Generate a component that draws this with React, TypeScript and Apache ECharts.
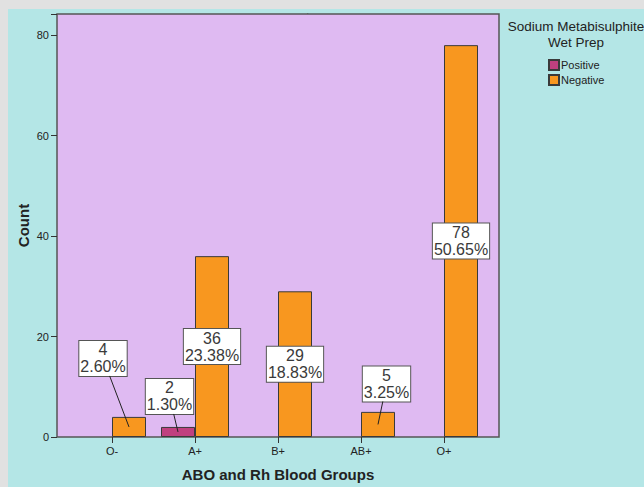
import React, { useEffect, useRef } from "react";
import * as echarts from "echarts";

const categories = ["O-", "A+", "B+", "AB+", "O+"];
const positiveCounts = [0, 2, 0, 0, 0];
const negativeCounts = [4, 36, 29, 5, 78];
const seriesNames = ["Positive", "Negative"];
const yTicks = [0, 20, 40, 60, 80];
// label displacement (px) for labels pushed off small bars
const positiveLabelShift: [number, number][] = [[0, 0], [-8.5, -35.5], [0, 0], [0, 0], [0, 0]];
const negativeLabelShift: [number, number][] = [[-26, -68.5], [0, 0], [0, 0], [8.5, -40.5], [0, 0]];

const FONT = "'Liberation Sans', Arial, sans-serif";
const BAR_W = 34;
const BOX_HALF_H = 17.5;

export default function App() {
  const ref = useRef<HTMLDivElement>(null);
  useEffect(() => {
    if (!ref.current) return;
    const chart = echarts.init(ref.current, null, { renderer: "svg" });
    const total =
      positiveCounts.reduce((a, b) => a + b, 0) + negativeCounts.reduce((a, b) => a + b, 0);

    const makeData = (vals: number[], shifts: [number, number][]) =>
      vals.map((v, i) => ({
        value: v,
        label: { show: v > 0, offset: shifts[i] },
        itemStyle: v > 0 ? {} : { borderWidth: 0, opacity: 0 },
      }));

    const labelStyle = {
      show: true,
      position: "inside",
      formatter: (p: any) => `${p.value}\n${((p.value / total) * 100).toFixed(2)}%`,
      fontSize: 16,
      lineHeight: 17,
      fontFamily: FONT,
      color: "#3a3a3a",
      backgroundColor: "#ffffff",
      borderColor: "#555",
      borderWidth: 1,
      padding: [1, 1, 0, 1],
    };

    const leaderData: number[][] = [];
    [
      [positiveCounts, positiveLabelShift, -1],
      [negativeCounts, negativeLabelShift, 1],
    ].forEach(([vals, shifts, side]: any) => {
      (vals as number[]).forEach((v, i) => {
        const s = shifts[i];
        if (v > 0 && (s[0] !== 0 || s[1] !== 0)) leaderData.push([i, v, side, s[0], s[1]]);
      });
    });

    chart.setOption({
      animation: false,
      backgroundColor: "#b4e6e6",
      graphic: [
        {
          type: "rect",
          z: -1,
          shape: { x: 49, y: 5, width: 442, height: 423 },
          style: { fill: "#dfbaf2", stroke: "#555", lineWidth: 1.5 },
        },
        {
          type: "text",
          x: 568,
          y: 9,
          style: {
            text: "Sodium Metabisulphite\nWet Prep",
            textAlign: "center",
            textVerticalAlign: "top",
            fontSize: 13.5,
            lineHeight: 16,
            fontFamily: FONT,
            fill: "#222",
          },
        },
        {
          type: "text",
          x: 299,
          y: 0,
          style: { text: ".", fontSize: 5, textVerticalAlign: "top", fill: "#111", fontFamily: FONT },
        },
      ],
      legend: {
        data: seriesNames,
        orient: "vertical",
        left: 540,
        top: 50,
        padding: 0,
        itemWidth: 10,
        itemHeight: 10,
        itemGap: 3,
        icon: "rect",
        textStyle: { fontSize: 11, color: "#222", fontFamily: FONT, padding: [0, 0, 0, -3] },
      },
      grid: { left: 62.5, right: 158.5, top: 5, bottom: 50, containLabel: false, outerBoundsMode: "none" },
      xAxis: {
        type: "category",
        data: categories,
        name: "ABO and Rh Blood Groups",
        nameLocation: "middle",
        nameGap: 30,
        nameMoveOverlap: false,
        nameTextStyle: { fontSize: 15, fontWeight: "bold", color: "#222", fontFamily: FONT },
        axisLine: { show: false },
        axisTick: { show: true, alignWithLabel: true, length: 6, lineStyle: { color: "#333" } },
        axisLabel: { fontSize: 11, color: "#222", margin: 8, fontFamily: FONT },
      },
      yAxis: {
        type: "value",
        min: 0,
        max: 84.2,
        interval: 20,
        offset: 13.5,
        name: "Count",
        nameLocation: "middle",
        nameGap: 26,
        nameMoveOverlap: false,
        nameTextStyle: { fontSize: 15, fontWeight: "bold", color: "#222", fontFamily: FONT },
        axisLine: { show: false },
        axisTick: { show: true, length: 6, lineStyle: { color: "#333" } },
        axisLabel: {
          fontSize: 11,
          color: "#222",
          margin: 8,
          fontFamily: FONT,
          formatter: (v: number) => (yTicks.includes(v) ? String(v) : ""),
        },
        splitLine: { show: false },
      },
      series: [
        {
          name: seriesNames[0],
          type: "bar",
          barWidth: BAR_W,
          barGap: "0%",
          data: makeData(positiveCounts, positiveLabelShift),
          itemStyle: { color: "#c0407f", borderColor: "#3a3a3a", borderWidth: 1 },
          label: labelStyle,
        },
        {
          name: seriesNames[1],
          type: "bar",
          barWidth: BAR_W,
          barGap: "0%",
          data: makeData(negativeCounts, negativeLabelShift),
          itemStyle: { color: "#f8971f", borderColor: "#3a3a3a", borderWidth: 1 },
          label: labelStyle,
        },
        {
          type: "custom",
          z: 5,
          silent: true,
          data: leaderData,
          renderItem: (_params: any, api: any) => {
            const c = api.coord([api.value(0), api.value(1) / 2]);
            const x = c[0] + (api.value(2) * BAR_W) / 2;
            const y = c[1];
            const lx = x + api.value(3);
            const ly = y + api.value(4);
            const by = ly + BOX_HALF_H;
            const f = (by - y) / (ly - y);
            const ex = x + f * (lx - x);
            return {
              type: "line",
              shape: { x1: x, y1: y, x2: ex, y2: by },
              style: { stroke: "#222", lineWidth: 1 },
            };
          },
        },
      ],
    });
    return () => chart.dispose();
  }, []);

  return (
    <div style={{ position: "fixed", inset: 0, background: "#e1e1e1" }}>
      <div
        ref={ref}
        style={{ position: "absolute", left: 8, top: 9, width: 636, height: 478 }}
      />
    </div>
  );
}
